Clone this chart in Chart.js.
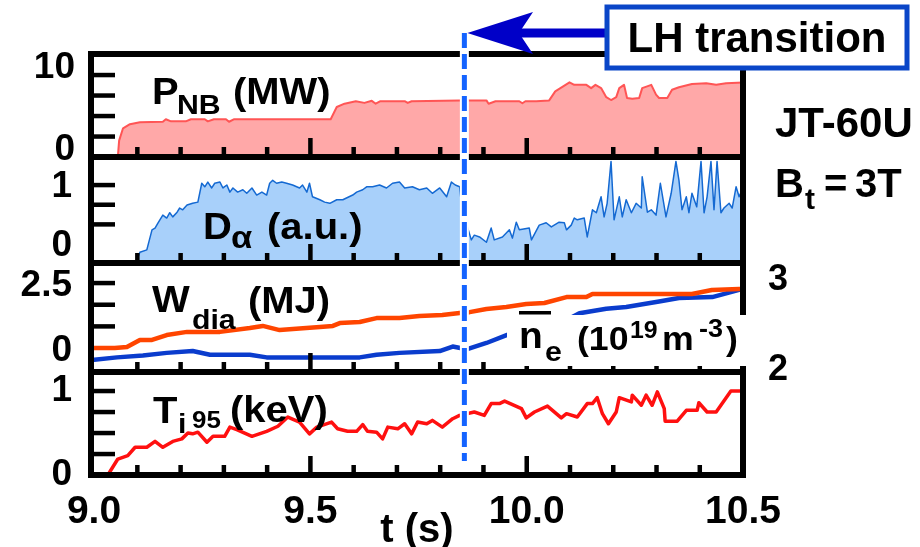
<!DOCTYPE html>
<html>
<head>
<meta charset="utf-8">
<script src="https://cdn.jsdelivr.net/npm/chart.js@4.4.1/dist/chart.umd.min.js"></script>
<style>
  html, body { margin: 0; padding: 0; background: #fff; }
  canvas { display: block; }
</style>
</head>
<body>
<canvas id="discharge" width="920" height="547"></canvas>
<script>
// Time axis (s)
const timeTicks = [9.0, 9.5, 10.0, 10.5];
const minorTimes = [9.1, 9.2, 9.3, 9.4, 9.5, 9.6, 9.7, 9.8, 9.9, 10.0, 10.1, 10.2, 10.3, 10.4];
const majorTimes = [9.5, 10.0];
const lhTime = 9.856; // L-H transition

// NBI power (MW)
const pnbTime = [9.055, 9.058, 9.067, 9.083, 9.106, 9.159, 9.166, 9.178, 9.212, 9.224, 9.256, 9.263, 9.277, 9.305, 9.312, 9.323,
  9.547, 9.561, 9.579, 9.605, 9.625, 9.642, 9.651, 9.662, 9.718, 9.725, 9.734, 9.845, 9.907, 9.912, 9.928, 9.983, 9.990, 9.997,
  10.022, 10.052, 10.066, 10.099, 10.110, 10.138, 10.149, 10.159, 10.172, 10.184, 10.195, 10.207, 10.214, 10.225, 10.232, 10.244,
  10.260, 10.267, 10.288, 10.299, 10.306, 10.325, 10.336, 10.352, 10.382, 10.415, 10.438, 10.461, 10.5];
const pnbPower = [0, 2.0, 3.5, 4.0, 4.25, 4.3, 4.6, 4.35, 4.35, 4.6, 4.6, 4.35, 4.6, 4.6, 4.3, 4.6,
  4.6, 6.1, 6.5, 6.8, 6.6, 6.85, 6.5, 6.8, 6.8, 6.6, 6.8, 6.9, 6.9, 6.5, 6.8, 6.8, 6.55, 6.8,
  6.8, 6.9, 8.0, 9.1, 8.8, 8.8, 8.4, 8.8, 8.4, 7.3, 6.95, 7.3, 8.4, 8.8, 7.2, 7.1,
  7.2, 8.4, 8.8, 7.6, 7.2, 7.2, 8.2, 8.5, 8.9, 9.0, 8.8, 9.0, 9.1];
const pnbTicks = [2.5, 5, 7.5, 10];
const pnbLabels = [0, 10];

// D-alpha emission (a.u.)
const dalphaTime = [9.099, 9.106, 9.122, 9.134, 9.141, 9.148, 9.159, 9.168, 9.175, 9.182,
  9.192, 9.198, 9.205, 9.215, 9.228, 9.240, 9.249, 9.256, 9.263, 9.272,
  9.279, 9.291, 9.298, 9.307, 9.314, 9.321, 9.332, 9.344, 9.353, 9.365,
  9.376, 9.388, 9.399, 9.406, 9.413, 9.422, 9.434, 9.445, 9.459, 9.475,
  9.482, 9.492, 9.498, 9.505, 9.522, 9.533, 9.545, 9.561, 9.575, 9.598,
  9.607, 9.621, 9.630, 9.644, 9.660, 9.676, 9.690, 9.706, 9.718, 9.736,
  9.752, 9.769, 9.782, 9.799, 9.815, 9.826, 9.835, 9.845, 9.852, 9.863,
  9.872, 9.879, 9.891, 9.907, 9.918, 9.925, 9.944, 9.960, 9.967, 9.976,
  9.983, 10.006, 10.011, 10.029, 10.045, 10.057, 10.075, 10.087, 10.092, 10.103,
  10.110, 10.117, 10.133, 10.140, 10.152, 10.161, 10.172, 10.179, 10.186, 10.195,
  10.202, 10.214, 10.221, 10.230, 10.242, 10.253, 10.265, 10.267, 10.279, 10.288,
  10.299, 10.309, 10.322, 10.334, 10.345, 10.352, 10.359, 10.369, 10.375, 10.382,
  10.393, 10.403, 10.410, 10.417, 10.426, 10.433, 10.440, 10.449, 10.456, 10.468,
  10.475, 10.484, 10.491, 10.498];
const dalphaSignal = [-0.27, -0.14, -0.10, 0.24, 0.27, 0.36, 0.49, 0.44, 0.53, 0.46,
  0.54, 0.61, 0.58, 0.66, 0.69, 0.71, 1.03, 0.97, 1.05, 0.95,
  1.03, 1.05, 0.95, 1.0, 0.88, 0.95, 0.88, 0.92, 0.86, 0.95,
  0.83, 0.88, 0.83, 1.03, 1.08, 1.03, 1.05, 1.03, 1.0, 0.95,
  1.0, 0.88, 1.03, 0.80, 0.75, 0.71, 0.69, 0.75, 0.75, 0.83,
  0.88, 0.92, 0.97, 0.97, 1.0, 0.95, 1.03, 1.05, 0.95, 0.97,
  0.92, 0.95, 0.86, 0.95, 0.80, 1.05, 1.0, 0.97, 0.49, 0.29,
  0.07, 0.15, 0.12, 0.03, 0.27, 0.07, 0.12, 0.24, 0.10, 0.37,
  0.24, 0.27, 0.07, 0.32, 0.36, 0.29, 0.37, 0.36, 0.24, 0.32,
  0.44, 0.41, 0.44, 0.12, 0.58, 0.53, 0.80, 0.46, 0.69, 1.4,
  0.41, 0.80, 0.46, 0.75, 0.53, 0.69, 0.61, 1.14, 0.54, 0.58,
  0.49, 1.03, 0.46, 0.86, 1.4, 1.08, 0.58, 0.80, 0.53, 0.86,
  0.63, 1.4, 0.53, 0.80, 1.4, 0.58, 1.4, 0.53, 0.61, 0.69,
  0.61, 0.97, 0.80, 0.92];
const dalphaTicks = [1 / 3, 2 / 3, 1];
const dalphaLabels = [0, 1];

// Diamagnetic stored energy (MJ)
const wdiaTime = [8.993, 9.048, 9.076, 9.106, 9.134, 9.168, 9.215, 9.291, 9.360, 9.390, 9.429, 9.475, 9.522, 9.552, 9.568, 9.614,
  9.653, 9.706, 9.752, 9.805, 9.845, 9.868, 9.907, 9.953, 9.999, 10.041, 10.092, 10.138, 10.152, 10.382, 10.428, 10.491, 10.5];
const wdiaEnergy = [0, 0, 0.04, 0.31, 0.31, 0.5, 0.62, 0.62, 0.77, 0.85, 0.69, 0.75, 0.81, 0.85, 0.96, 1.0,
  1.15, 1.15, 1.23, 1.27, 1.35, 1.38, 1.5, 1.58, 1.69, 1.73, 1.96, 1.96, 2.08, 2.08, 2.23, 2.27, 2.27];
const wdiaTicks = [2.5 / 3, 5 / 3, 2.5];
const wdiaLabels = [0, 2.5];

// Line-averaged density (1e19 m^-3), right axis
const neTime = [8.995, 9.053, 9.113, 9.168, 9.228, 9.268, 9.360, 9.399, 9.614, 9.653, 9.706, 9.799, 9.829,
  9.861, 9.907, 9.955, 10.082, 10.122, 10.184, 10.230, 10.306, 10.352, 10.429, 10.491, 10.5];
const neDensity = [2.11, 2.14, 2.16, 2.19, 2.21, 2.17, 2.17, 2.14, 2.14, 2.17, 2.19, 2.21, 2.26,
  2.23, 2.30, 2.39, 2.53, 2.63, 2.68, 2.70, 2.76, 2.80, 2.81, 2.89, 2.9];
const neTicks = [2, 3];

// Ion temperature at rho = 0.95 (keV)
const tiTime = [9.032, 9.055, 9.078, 9.095, 9.122, 9.141, 9.159, 9.182, 9.203, 9.217,
  9.228, 9.240, 9.261, 9.275, 9.302, 9.314, 9.330, 9.365, 9.399, 9.425,
  9.448, 9.475, 9.498, 9.515, 9.549, 9.563, 9.586, 9.607, 9.621, 9.632,
  9.653, 9.667, 9.679, 9.702, 9.718, 9.734, 9.748, 9.769, 9.782, 9.805,
  9.829, 9.845, 9.879, 9.902, 9.918, 9.937, 9.949, 9.988, 9.999, 10.018,
  10.048, 10.080, 10.092, 10.117, 10.140, 10.152, 10.163, 10.175, 10.189, 10.207,
  10.214, 10.242, 10.244, 10.265, 10.276, 10.290, 10.302, 10.318, 10.320, 10.348,
  10.369, 10.394, 10.398, 10.417, 10.438, 10.472, 10.491, 10.5];
const tiTemp = [0, 0.19, 0.23, 0.33, 0.33, 0.40, 0.33, 0.40, 0.43, 0.50,
  0.49, 0.51, 0.39, 0.46, 0.46, 0.57, 0.54, 0.46, 0.52, 0.58,
  0.69, 0.63, 0.49, 0.57, 0.63, 0.55, 0.52, 0.52, 0.60, 0.52,
  0.51, 0.43, 0.57, 0.55, 0.61, 0.49, 0.63, 0.61, 0.65, 0.57,
  0.67, 0.71, 0.75, 0.71, 0.85, 0.85, 0.88, 0.79, 0.68, 0.75,
  0.82, 0.68, 0.73, 0.69, 0.85, 0.85, 0.92, 0.73, 0.61, 0.75,
  0.92, 0.87, 0.95, 0.83, 0.95, 0.83, 0.99, 0.79, 0.64, 0.64,
  0.77, 0.77, 0.86, 0.75, 0.75, 1.0, 1.0, 1.0];
const tiTicks = [0.25, 0.5, 0.75, 1];
const tiLabels = [0, 1];

const FONT = '"Liberation Sans", Arial, Helvetica, sans-serif';
const TEXT_STRETCH = 1.08;

function toPoints(xs, ys) {
  return xs.map((x, i) => ({ x: x, y: ys[i] }));
}

// one panel of the stack, sharing the left edge with the others
function panelAxis(min, max, tickVals, labelVals, share, order, pad, shift) {
  return {
    type: 'linear',
    position: 'left',
    stack: 'panels',
    stackWeight: share,
    weight: order,
    min: min,
    max: max,
    grid: { display: false, drawTicks: false },
    border: { display: false },
    afterBuildTicks: axis => {
      axis.ticks = [0].concat(tickVals).map(v => ({ value: v }));
    },
    afterFit: axis => { axis.width = 91; },
    ticks: {
      autoSkip: false,
      padding: pad,
      labelOffset: shift,
      color: '#000',
      font: { family: FONT, size: 37, weight: 'bold' },
      callback: v => labelVals.includes(v) ? String(v) : ''
    }
  };
}

// text pieces: [text, x, baseline, size]
const labelPnb = [['P', 152, 104, 37], ['NB', 177, 114, 28], ['(MW)', 233, 104, 37]];
const labelDalpha = [['D', 203, 239, 37], ['\u03b1', 231, 248, 32], ['(a.u.)', 267, 239, 37]];
const labelWdia = [['W', 152, 312, 37], ['dia', 192, 329, 28], ['(MJ)', 248, 313, 37]];
const labelTi = [['T', 153, 423, 37], ['i', 178, 433, 28], ['95', 192, 428, 24], ['(keV)', 230, 422, 37]];
const labelNe = [['n', 519, 348, 36], ['e', 545, 361, 28], ['(10', 577, 350, 33], ['19', 630, 338, 23],
  ['m', 662, 350, 33], ['-3', 699, 337, 25], [')', 726, 350, 33]];
const labelDevice = [['JT-60U', 775, 137, 42]];
const labelField = [['B', 775, 197, 40], ['t', 805, 209, 30], ['=', 824, 197, 40], ['3T', 855, 197, 40]];

function drawParts(ctx, parts, stretch) {
  parts.forEach(([text, x, y, size]) => {
    ctx.save();
    ctx.font = 'bold ' + size + 'px ' + FONT;
    ctx.textAlign = 'left';
    ctx.textBaseline = 'alphabetic';
    ctx.fillStyle = '#000';
    ctx.translate(x, y);
    ctx.scale(stretch, 1);
    ctx.fillText(text, 0, 0);
    ctx.restore();
  });
}

const panelDecor = {
  id: 'panelDecor',
  afterDraw(chart) {
    const ctx = chart.ctx;
    const xs = chart.scales.x;
    const left = chart.chartArea.left;
    const right = chart.chartArea.right;
    const panels = [
      [chart.scales.yP, pnbTicks],
      [chart.scales.yD, dalphaTicks],
      [chart.scales.yW, wdiaTicks],
      [chart.scales.yT, tiTicks]
    ];

    ctx.save();
    // panel frames
    ctx.strokeStyle = '#000';
    ctx.lineWidth = 6;
    panels.forEach(([s]) => {
      ctx.strokeRect(left, s.top, right - left, s.bottom - s.top);
    });

    // inward tick marks on every panel
    ctx.fillStyle = '#000';
    panels.forEach(([s, vals]) => {
      vals.forEach(v => {
        const y = s.getPixelForValue(v);
        if (y > s.top + 5) {
          ctx.beginPath();
          ctx.rect(left, y - 2.2, 24, 4.5);
          ctx.fill();
        }
      });
      minorTimes.forEach(t => {
        const x = xs.getPixelForValue(t);
        const len = majorTimes.includes(t) ? 19 : 10;
        ctx.beginPath();
        ctx.rect(x - 2.2, s.bottom - len, 4.5, len);
        ctx.fill();
      });
    });

    // density label sits on a white patch
    ctx.fillStyle = '#fff';
    ctx.fillRect(507, 315, 242, 51);
    drawParts(ctx, labelNe, TEXT_STRETCH);
    ctx.fillStyle = '#000';
    ctx.fillRect(519, 311, 32, 3.5);

    drawParts(ctx, labelPnb, TEXT_STRETCH);
    drawParts(ctx, labelDalpha, TEXT_STRETCH);
    drawParts(ctx, labelWdia, TEXT_STRETCH);
    drawParts(ctx, labelTi, TEXT_STRETCH);
    drawParts(ctx, labelDevice, 1);
    drawParts(ctx, labelField, 1);

    // L-H transition marker
    const lx = xs.getPixelForValue(lhTime);
    ctx.beginPath();
    ctx.moveTo(lx, 33);
    ctx.lineTo(lx, 461);
    ctx.strokeStyle = '#fff';
    ctx.lineWidth = 9;
    ctx.stroke();
    ctx.setLineDash([15, 6]);
    ctx.strokeStyle = '#1463ff';
    ctx.lineWidth = 5;
    ctx.stroke();
    ctx.setLineDash([]);

    // arrow pointing at the transition
    ctx.fillStyle = '#0000c8';
    ctx.fillRect(516, 28.5, 92, 9);
    ctx.beginPath();
    ctx.moveTo(lx + 3, 33);
    ctx.lineTo(533, 12);
    ctx.lineTo(519, 33);
    ctx.lineTo(533, 54);
    ctx.closePath();
    ctx.fill();

    ctx.fillStyle = '#fff';
    ctx.fillRect(607, 7, 300, 61);
    ctx.strokeStyle = '#0a46c8';
    ctx.lineWidth = 5;
    ctx.strokeRect(607, 7, 300, 61);
    ctx.fillStyle = '#000';
    ctx.font = 'bold 42px ' + FONT;
    ctx.textAlign = 'center';
    ctx.textBaseline = 'alphabetic';
    ctx.fillText('LH transition', 757, 52);
    ctx.restore();
  }
};

new Chart(document.getElementById('discharge'), {
  type: 'line',
  data: {
    datasets: [
      {
        label: 'P_NB',
        data: toPoints(pnbTime, pnbPower),
        yAxisID: 'yP',
        borderColor: '#ff5555',
        borderWidth: 2,
        backgroundColor: '#ffa8a8',
        fill: 'start'
      },
      {
        label: 'D_alpha',
        data: toPoints(dalphaTime, dalphaSignal),
        yAxisID: 'yD',
        borderColor: '#1469d2',
        borderWidth: 1.5,
        backgroundColor: '#a8d0fa',
        fill: 'start'
      },
      {
        label: 'W_dia',
        data: toPoints(wdiaTime, wdiaEnergy),
        yAxisID: 'yW',
        borderColor: '#ff4500',
        borderWidth: 4.5,
        fill: false
      },
      {
        label: 'n_e',
        data: toPoints(neTime, neDensity),
        yAxisID: 'yN',
        borderColor: '#0a3ccd',
        borderWidth: 4.5,
        fill: false
      },
      {
        label: 'T_i95',
        data: toPoints(tiTime, tiTemp),
        yAxisID: 'yT',
        borderColor: '#ff1010',
        borderWidth: 3.5,
        fill: false
      }
    ]
  },
  options: {
    responsive: false,
    animation: false,
    events: [],
    layout: { padding: { top: 54, left: 0, right: 0, bottom: 0 } },
    elements: { point: { radius: 0 }, line: { tension: 0, borderJoinStyle: 'round' } },
    plugins: { legend: { display: false }, tooltip: { enabled: false } },
    scales: {
      x: {
        type: 'linear',
        position: 'bottom',
        min: 8.993,
        max: 10.5,
        grid: { display: false, drawTicks: false },
        border: { display: false },
        afterBuildTicks: axis => { axis.ticks = timeTicks.map(v => ({ value: v })); },
        afterFit: axis => { axis.height = 72; },
        ticks: {
          autoSkip: false,
          maxRotation: 0,
          padding: 14,
          color: '#000',
          font: { family: FONT, size: 39, weight: 'bold' },
          callback: v => v.toFixed(1)
        },
        title: {
          display: true,
          text: 't (s)',
          color: '#000',
          font: { family: FONT, size: 40, weight: 'bold', lineHeight: 1 },
          padding: { top: 0, bottom: -4 }
        }
      },
      yP: panelAxis(0, 12.56, pnbTicks, pnbLabels, 103, 4, 16, -7),
      yD: panelAxis(-0.322, 1.475, dalphaTicks, dalphaLabels, 106, 3, 19, 2),
      yW: panelAxis(-0.923, 3.27, wdiaTicks, wdiaLabels, 109, 2, 19, 3),
      yT: panelAxis(0, 1.226, tiTicks, tiLabels, 103, 1, 19, 0),
      yN: {
        type: 'linear',
        position: 'right',
        min: 0.833,
        max: 5.511,
        grid: { display: false, drawTicks: false },
        border: { display: false },
        afterBuildTicks: axis => { axis.ticks = neTicks.map(v => ({ value: v })); },
        afterFit: axis => { axis.width = 177; },
        ticks: {
          autoSkip: false,
          padding: 25,
          color: '#000',
          font: { family: FONT, size: 36, weight: 'bold' }
        }
      }
    }
  },
  plugins: [panelDecor]
});
</script>
</body>
</html>
